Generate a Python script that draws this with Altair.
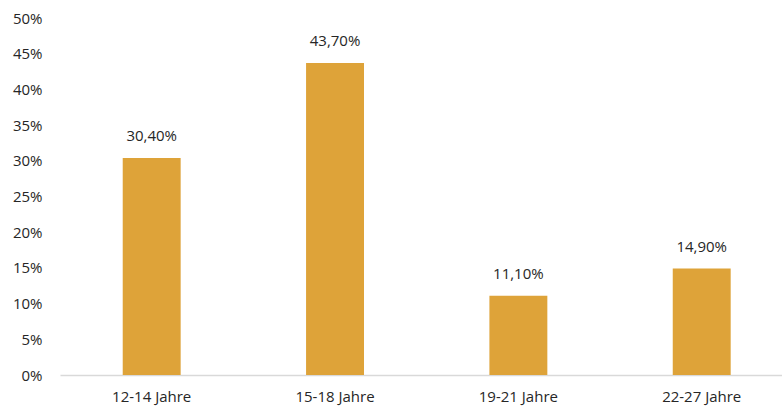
import altair as alt
import pandas as pd

categories = ["12-14 Jahre", "15-18 Jahre", "19-21 Jahre", "22-27 Jahre"]
values = [30.40, 43.70, 11.10, 14.90]
labels = [f"{v:.2f}".replace(".", ",") + "%" for v in values]
y_ticks = [0, 5, 10, 15, 20, 25, 30, 35, 40, 45, 50]

df = pd.DataFrame({"cat": categories, "val": values, "label": labels})

FONT = "Open Sans"
TXT = "#262626"
FS = 15

xscale = alt.Scale(paddingInner=0.684, paddingOuter=0.311, align=0.55)
yscale = alt.Scale(domain=[0, 50], nice=False)

x = alt.X("cat:N", sort=categories, title=None, scale=xscale,
          axis=alt.Axis(labelAngle=0, labelFont=FONT, labelFontSize=FS, labelColor=TXT,
                        domainColor="#D9D9D9", domainWidth=1.5, ticks=False, labelPadding=14))
y = alt.Y("val:Q", title=None, scale=yscale,
          axis=alt.Axis(values=y_ticks, labelExpr="datum.value + '%'",
                        labelFont=FONT, labelFontSize=FS, labelColor=TXT, labelOverlap=False,
                        labelBound=False, labelFlush=False,
                        domain=False, ticks=False, grid=False, labelPadding=18))

base = alt.Chart(df).encode(x=x, y=y)
bars = base.mark_bar(color="#DEA339")
text = base.mark_text(baseline="bottom", dy=-14, font=FONT, fontSize=FS, color=TXT).encode(text="label:N")

chart = (bars + text).properties(
    width=722, height=357,
    autosize=alt.AutoSizeParams(type="none"),
    padding={"left": 60, "top": 18, "right": 0, "bottom": 34},
).configure_view(stroke=None).configure_axis(grid=False)

chart.save("out.html", embed_options={"renderer": "svg", "actions": False})
